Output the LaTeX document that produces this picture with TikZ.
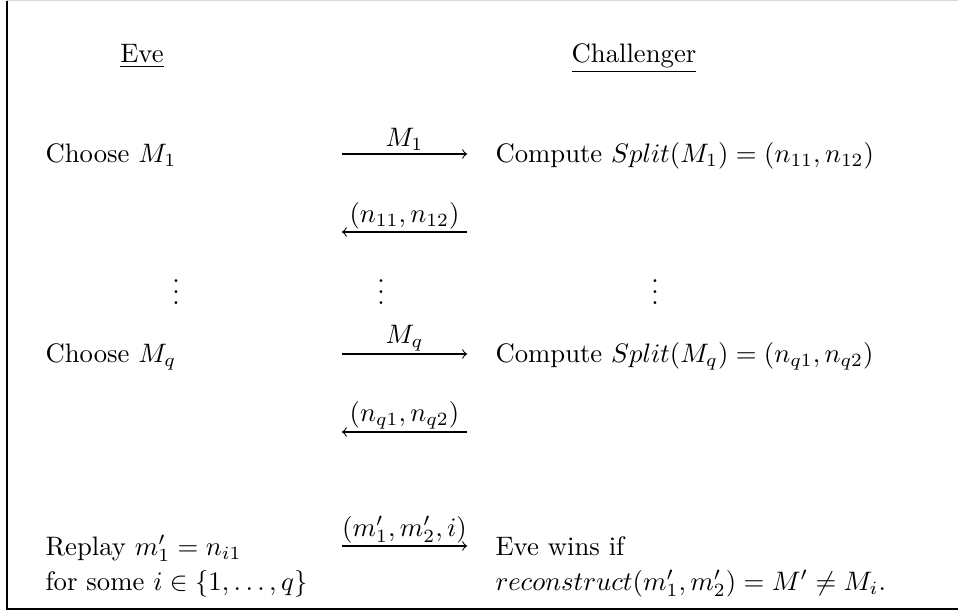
\documentclass[tikz,border=0pt]{standalone}
\usepackage{amsmath}
\usepackage{amssymb}
\usepackage{tikz}
\usetikzlibrary{arrows, positioning}
\tikzstyle{msgarrow} = [->,>=to]
\tikzstyle{txt} = [inner sep=0pt, anchor=base west]
\tikzstyle{head} = [inner sep=0pt, anchor=base]
\tikzstyle{lbl} = [above, inner sep=1pt]

\begin{document}
\begin{tikzpicture}[x=0.3745pt, y=-0.3745pt]
    \useasboundingbox (0,0) rectangle (958,612);
    % Frame
    \coordinate (ftl) at (7,0.5);
    \coordinate (ftr) at (958,0.5);
    \coordinate (fbl) at (7,609);
    \coordinate (fbr) at (958,609);
    \draw[black!15, line width=0.6pt] (ftl) -- (ftr);
    \draw[line width=0.6pt] (ftl) -- (fbl) -- (fbr);

    % Headers
    \node (eve) [head] at (142,62) {\underline{Eve}};
    \node (chal) [head] at (634,62) {\underline{Challenger}};

    % First query
    \node (c1) [txt] at (45,162) {Choose $M_1$};
    \node (s1) [txt] at (495,162) {Compute $Split(M_1) = (n_{11}, n_{12})$};
    \coordinate (a1l) at (342,154);
    \coordinate (a1r) at (467,154);
    \draw[msgarrow] (a1l) -- node[lbl] {$M_1$} (a1r);
    \coordinate (b1l) at (342,232);
    \coordinate (b1r) at (467,232);
    \draw[msgarrow] (b1r) -- node[lbl] {$(n_{11}, n_{12})$} (b1l);

    % Dots
    \node (d1) [head] at (176,304) {$\vdots$};
    \node (d2) [head] at (381,304) {$\vdots$};
    \node (d3) [head] at (655,304) {$\vdots$};

    % Last query
    \node (cq) [txt] at (45,362) {Choose $M_q$};
    \node (sq) [txt] at (495,362) {Compute $Split(M_q) = (n_{q1}, n_{q2})$};
    \coordinate (aql) at (342,354);
    \coordinate (aqr) at (467,354);
    \draw[msgarrow] (aql) -- node[lbl] {$M_q$} (aqr);
    \coordinate (bql) at (342,432);
    \coordinate (bqr) at (467,432);
    \draw[msgarrow] (bqr) -- node[lbl] {$(n_{q1}, n_{q2})$} (bql);

    % Replay
    \node (r1) [txt] at (45,555) {Replay $m'_1 = n_{i1}$};
    \node (r2) [txt] at (45,590) {for some $i \in \{1, \ldots, q\}$};
    \node (w1) [txt] at (495,555) {Eve wins if};
    \node (w2) [txt] at (495,590) {$reconstruct(m'_1, m'_2) = M' \neq M_i.$};
    \coordinate (rl) at (342,546);
    \coordinate (rr) at (467,546);
    \draw[msgarrow] (rl) -- node[lbl] {$(m'_1, m'_2, i)$} (rr);
\end{tikzpicture}
\end{document}
